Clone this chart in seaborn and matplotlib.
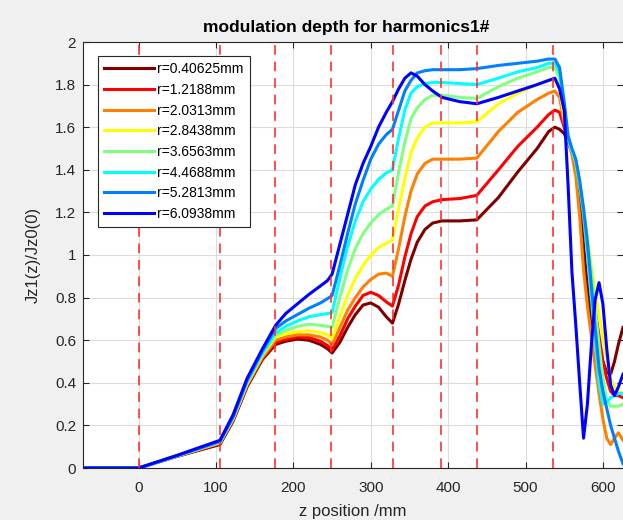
import numpy as np
import pandas as pd
import matplotlib
matplotlib.use("Agg")
import matplotlib.pyplot as plt
import seaborn as sns

# z positions (mm) shared by all curves
z = [-72, 0, 50, 105, 122, 140, 160,
     177, 190, 205, 220, 235, 244, 250, 260, 270, 280, 290, 300, 310, 320, 328, 336, 344, 352, 360, 370, 380,
     392, 415, 437, 465, 490, 515, 530, 538, 544, 550, 555, 560, 565, 570, 575, 580, 585, 590, 595, 600,
     605, 610, 615, 620, 626]

radii = ["r=0.40625mm", "r=1.2188mm", "r=2.0313mm", "r=2.8438mm",
         "r=3.6563mm", "r=4.4688mm", "r=5.2813mm", "r=6.0938mm"]

r1 = [0, 0, 0.055, 0.11, 0.22, 0.38, 0.51,
      0.58, 0.595, 0.605, 0.60, 0.58, 0.56, 0.54, 0.59, 0.66, 0.72, 0.765, 0.775, 0.755, 0.71, 0.68, 0.77, 0.88, 0.98, 1.06, 1.12, 1.15,
      1.16, 1.16, 1.165, 1.27, 1.39, 1.50, 1.58, 1.60, 1.59, 1.57, 1.53, 1.48, 1.43, 1.25, 1.05, 0.85, 0.70, 0.62, 0.56, 0.50,
      0.45, 0.44, 0.50, 0.58, 0.66]
r2 = [0, 0, 0.055, 0.115, 0.225, 0.385, 0.515,
      0.59, 0.605, 0.615, 0.613, 0.595, 0.575, 0.555, 0.62, 0.70, 0.76, 0.81, 0.825, 0.81, 0.78, 0.76, 0.86, 0.99, 1.10, 1.18, 1.23, 1.25,
      1.26, 1.265, 1.28, 1.40, 1.51, 1.60, 1.66, 1.68, 1.67, 1.60, 1.54, 1.49, 1.44, 1.33, 1.17, 1.02, 0.88, 0.74, 0.62, 0.50,
      0.42, 0.36, 0.34, 0.34, 0.33]
r3 = [0, 0, 0.056, 0.117, 0.228, 0.39, 0.52,
      0.60, 0.615, 0.625, 0.625, 0.615, 0.60, 0.58, 0.66, 0.74, 0.80, 0.85, 0.885, 0.91, 0.915, 0.90, 1.03, 1.18, 1.30, 1.38, 1.43, 1.45,
      1.45, 1.45, 1.455, 1.58, 1.67, 1.73, 1.76, 1.77, 1.74, 1.62, 1.54, 1.47, 1.37, 1.18, 0.93, 0.76, 0.62, 0.48, 0.35, 0.23,
      0.14, 0.11, 0.14, 0.165, 0.13]
r4 = [0, 0, 0.057, 0.12, 0.232, 0.395, 0.53,
      0.615, 0.63, 0.64, 0.645, 0.635, 0.625, 0.61, 0.71, 0.81, 0.89, 0.95, 1.00, 1.035, 1.055, 1.07, 1.22, 1.36, 1.48, 1.55, 1.60, 1.62,
      1.62, 1.62, 1.625, 1.71, 1.76, 1.80, 1.82, 1.82, 1.78, 1.64, 1.55, 1.49, 1.44, 1.34, 1.22, 1.10, 0.95, 0.83, 0.72, 0.62,
      0.52, 0.42, 0.38, 0.36, 0.35]
r5 = [0, 0, 0.057, 0.122, 0.235, 0.40, 0.535,
      0.625, 0.645, 0.665, 0.675, 0.67, 0.665, 0.66, 0.80, 0.93, 1.03, 1.10, 1.15, 1.19, 1.215, 1.23, 1.39, 1.53, 1.64, 1.69, 1.73, 1.75,
      1.75, 1.74, 1.735, 1.79, 1.83, 1.86, 1.88, 1.88, 1.83, 1.67, 1.55, 1.49, 1.44, 1.33, 1.21, 1.07, 0.92, 0.75, 0.58, 0.42,
      0.32, 0.29, 0.29, 0.29, 0.30]
r6 = [0, 0, 0.058, 0.123, 0.238, 0.405, 0.54,
      0.635, 0.665, 0.69, 0.71, 0.72, 0.725, 0.73, 0.89, 1.04, 1.16, 1.25, 1.31, 1.355, 1.385, 1.40, 1.55, 1.68, 1.76, 1.79, 1.805, 1.81,
      1.81, 1.805, 1.80, 1.83, 1.86, 1.88, 1.90, 1.90, 1.86, 1.69, 1.55, 1.49, 1.44, 1.33, 1.19, 1.00, 0.80, 0.60, 0.40, 0.30,
      0.31, 0.33, 0.34, 0.35, 0.35]
r7 = [0, 0, 0.058, 0.125, 0.24, 0.41, 0.55,
      0.655, 0.69, 0.72, 0.75, 0.775, 0.795, 0.81, 0.95, 1.10, 1.24, 1.35, 1.45, 1.52, 1.565, 1.59, 1.68, 1.77, 1.82, 1.855, 1.865, 1.87,
      1.87, 1.87, 1.875, 1.89, 1.90, 1.91, 1.92, 1.92, 1.88, 1.72, 1.56, 1.50, 1.45, 1.35, 1.22, 1.06, 0.86, 0.66, 0.47, 0.36,
      0.28, 0.20, 0.14, 0.08, 0.02]
r8 = [0, 0, 0.06, 0.13, 0.25, 0.42, 0.56,
      0.67, 0.725, 0.77, 0.815, 0.855, 0.88, 0.91, 1.05, 1.19, 1.33, 1.43, 1.51, 1.60, 1.67, 1.72, 1.78, 1.83, 1.855, 1.84, 1.80, 1.77,
      1.74, 1.72, 1.71, 1.74, 1.77, 1.80, 1.82, 1.83, 1.78, 1.68, 1.33, 0.92, 0.67, 0.40, 0.14, 0.30, 0.57, 0.79, 0.87, 0.77,
      0.56, 0.39, 0.34, 0.38, 0.44]

# jet-like colours, dark red -> blue
colors = ["#800000", "#ff0000", "#ff8000", "#ffff00",
          "#80ff80", "#00ffff", "#0080ff", "#0000ff"]

# section boundaries (red dashed lines)
boundaries = [0, 105, 176, 249, 329, 391, 437, 536]

series = [r1, r2, r3, r4, r5, r6, r7, r8]
df = pd.concat([pd.DataFrame({"z": z, "val": s, "r": name}) for s, name in zip(series, radii)])

plt.rcParams["font.family"] = ["Liberation Sans", "DejaVu Sans"]
fig = plt.figure(figsize=(6.23, 5.2), dpi=100, facecolor="#f0f0f0")
ax = fig.add_axes([83 / 623, 52 / 520, 540 / 623, 426 / 520])
ax.set_facecolor("white")

sns.lineplot(data=df, x="z", y="val", hue="r", hue_order=radii, palette=colors,
             estimator=None, sort=False, linewidth=2.2, ax=ax)

for b in boundaries:
    ax.axvline(b, color="#ff3030", linestyle=(0, (5, 3.5)), linewidth=1.4, alpha=0.85, zorder=3)

ax.set_xlim(-72, 626)
ax.set_ylim(0, 2)
ax.set_xticks([0, 100, 200, 300, 400, 500, 600])
ax.set_yticks(np.arange(0, 2.01, 0.2))
ax.set_yticklabels(["0", "0.2", "0.4", "0.6", "0.8", "1", "1.2", "1.4", "1.6", "1.8", "2"])
ax.grid(True, color="#dcdcdc", linewidth=0.8)
ax.set_axisbelow(True)
ax.tick_params(direction="in", length=4, labelsize=11, colors="#262626",
               top=True, right=True, width=0.8)
ax.tick_params(axis="x", pad=9)
ax.tick_params(axis="y", pad=5)
for side in ["left", "bottom", "top"]:
    ax.spines[side].set_color("#262626")
    ax.spines[side].set_linewidth(0.8)
ax.spines["right"].set_visible(False)

ax.set_title("modulation depth for harmonics1#", fontsize=12.5, fontweight="bold", pad=7, x=0.487)
ax.set_xlabel("z position /mm", fontsize=12, color="#262626", labelpad=7)
ax.set_ylabel("Jz1(z)/Jz0(0)", fontsize=12, color="#262626", labelpad=10)

leg = ax.legend(loc="upper left", bbox_to_anchor=(0.028, 0.967), fontsize=10,
                handlelength=3.6, handletextpad=0.2, labelspacing=0.48,
                borderpad=0.45, fancybox=False, framealpha=1, edgecolor="#262626",
                borderaxespad=0)
leg.get_frame().set_linewidth(0.8)
for line in leg.get_lines():
    line.set_linewidth(2.2)

fig.savefig("out.png", dpi=100, facecolor=fig.get_facecolor())
